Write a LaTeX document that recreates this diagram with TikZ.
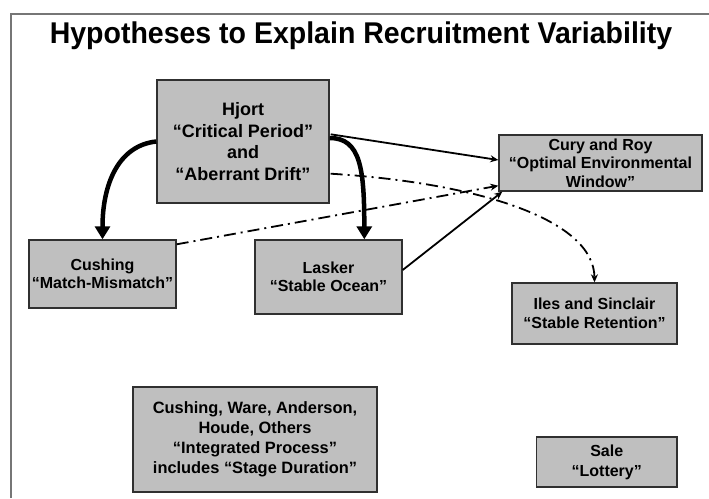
\documentclass[tikz,border=0pt]{standalone}
\usepackage{fontspec}
\setmainfont{Liberation Sans}
\usetikzlibrary{arrows.meta,calc}
\definecolor{boxfill}{HTML}{BFBFBF}
\definecolor{boxline}{HTML}{303030}
\definecolor{framegray}{HTML}{767676}
\begin{document}
\begin{tikzpicture}[x=1pt,y=-1pt,
  box/.style={draw=boxline,fill=boxfill,line width=1.4pt,inner sep=0pt,align=center,
    font=\bfseries\fontsize{16}{18.5}\selectfont},
  thinarrow/.style={line width=1.8pt,-{Stealth[length=8pt,width=7pt]}},
  thickarrow/.style={line width=4.5pt,-{Triangle[length=13pt,width=15pt]}},
  dasharrow/.style={line width=1.8pt,dash pattern=on 12pt off 5pt on 2pt off 5pt,-{Stealth[length=8pt,width=7pt]}}]
\useasboundingbox (0,0) rectangle (709,498);
\fill[white] (0,0) rectangle (709,498);
\draw[framegray,line width=2pt] (10.5,498) -- (10.5,14) -- (709,14);

\node[anchor=base,font=\bfseries\fontsize{30}{34}\selectfont] (title) at (361,43)
  {\scalebox{0.95}[1]{Hypotheses to Explain Recruitment Variability}};

\node[box,minimum width=172pt,minimum height=123pt,font=\bfseries\fontsize{18}{21.8}\selectfont]
  (hjort) at (243,141.5) {Hjort\\“Critical Period”\\and\\“Aberrant Drift”};
\node[box,minimum width=203pt,minimum height=56pt] (cury) at (600.5,163)
  {Cury and Roy\\“Optimal Environmental\\Window”};
\node[box,minimum width=147pt,minimum height=68pt] (cushing) at (102.5,274)
  {Cushing\\“Match-Mismatch”};
\node[box,minimum width=147pt,minimum height=74pt] (lasker) at (328.5,277)
  {Lasker\\“Stable Ocean”};
\node[box,minimum width=165pt,minimum height=61pt,font=\bfseries\fontsize{16}{19.5}\selectfont]
  (iles) at (594.5,313.5) {Iles and Sinclair\\“Stable Retention”};
\node[box,minimum width=244pt,minimum height=105pt,font=\bfseries\fontsize{16.4}{20}\selectfont]
  (cw) at (255,439.5) {Cushing, Ware, Anderson,\\Houde, Others\\“Integrated Process”\\includes “Stage Duration”};
\node[box,minimum width=140.5pt,minimum height=50pt,font=\bfseries\fontsize{16}{20}\selectfont]
  (sale) at (606.75,462) {Sale\\“Lottery”};

% connectors
\draw[thickarrow] (hjort.west) .. controls +(-38,4) and +(0,-55) .. (cushing.north);
\draw[thickarrow] ($(hjort.east)+(0,-3.5)$) .. controls +(31,0) and +(0,-70) .. ($(lasker.north west)+(110,0)$);
\draw[thinarrow] ($(hjort.north east)+(1,55)$) -- ($(cury.west)+(0,-3)$);
\draw[dasharrow] ($(hjort.south east)+(1,-30)$) .. controls (480,183) and (594,220) .. (iles.north);
\draw[dasharrow] ($(cushing.north east)+(0,5)$) -- ($(cury.south west)+(0,-6)$);
\draw[thinarrow] ($(lasker.east)+(0,-7)$) -- ($(cury.south west)+(4,0)$);
\end{tikzpicture}
\end{document}
